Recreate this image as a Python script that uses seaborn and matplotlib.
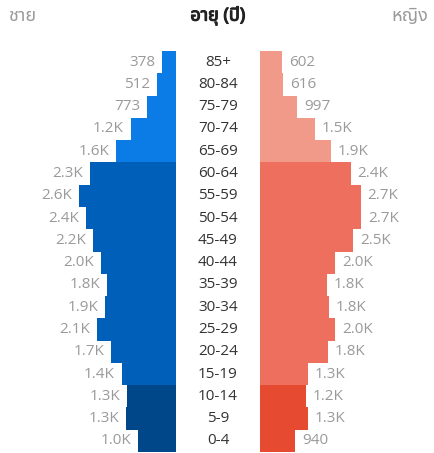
import matplotlib
matplotlib.use("Agg")
import matplotlib.pyplot as plt
import matplotlib.patheffects as pe
from matplotlib import font_manager
from matplotlib.ft2font import FT2Font
import seaborn as sns
import pandas as pd

# Age groups, oldest at the top
ages = ["85+", "80-84", "75-79", "70-74", "65-69", "60-64", "55-59", "50-54",
        "45-49", "40-44", "35-39", "30-34", "25-29", "20-24", "15-19",
        "10-14", "5-9", "0-4"]
male = [378, 512, 773, 1210, 1600, 2310, 2600, 2400, 2230, 2010, 1840, 1900,
        2120, 1740, 1450, 1310, 1330, 1020]
female = [602, 616, 997, 1480, 1900, 2430, 2700, 2710, 2490, 2010, 1790, 1840,
          2010, 1810, 1290, 1230, 1280, 940]

title_left = "ชาย"
title_mid = "อายุ (ปี)"
title_right = "หญิง"

# Colour bands: elderly (65+), working age (15-64), children (0-14)
male_colors = ["#0b7be6"] * 5 + ["#0060b9"] * 10 + ["#00478a"] * 3
female_colors = ["#f29a8a"] * 5 + ["#ee6f5d"] * 10 + ["#e64a31"] * 3


def thai_family():
    """Return an installed family that has Thai glyphs, if any."""
    found = []
    for f in font_manager.fontManager.ttflist:
        try:
            cmap = FT2Font(f.fname).get_charmap()
        except Exception:
            continue
        if all(ord(c) in cmap for c in "ชายหญิงปุ"):
            found.append(f.name)
    for pref in ["Noto Sans Thai", "Noto Sans Thai UI", "Tahoma", "Loma",
                 "Garuda", "Sarabun", "Leelawadee UI", "DejaVu Sans"]:
        if pref in found:
            return pref
    return found[0] if found else "DejaVu Sans"


sns.set_theme(style="white")
TH = thai_family()
plt.rcParams["font.family"] = ["Open Sans", TH, "DejaVu Sans"]

df = pd.DataFrame({"age": ages, "male": male, "female": female})

W, H = 434, 453
fig = plt.figure(figsize=(W / 100, H / 100), dpi=100)

px_per_unit = 0.0373
top_px, bot_px = 51, 452
left_edge, right_edge = 176, 260

ax_l = fig.add_axes([0, (H - bot_px) / H, left_edge / W, (bot_px - top_px) / H])
ax_r = fig.add_axes([right_edge / W, (H - bot_px) / H, (W - right_edge) / W,
                     (bot_px - top_px) / H])

sns.barplot(data=df, x="male", y="age", hue="age", palette=male_colors,
            legend=False, width=1.0, ax=ax_l, saturation=1, linewidth=0)
sns.barplot(data=df, x="female", y="age", hue="age", palette=female_colors,
            legend=False, width=1.0, ax=ax_r, saturation=1, linewidth=0)

ax_l.set_xlim(left_edge / px_per_unit, 0)
ax_r.set_xlim(0, (W - right_edge) / px_per_unit)


def fmt(v):
    return f"{v}" if v < 1000 else f"{v / 1000:.1f}K"


for ax, vals in ((ax_l, male), (ax_r, female)):
    ax.set_ylim(len(ages) - 0.5, -0.5)
    for cont, v in zip(ax.containers, vals):
        ax.bar_label(cont, labels=[fmt(v)], padding=5, color="#9a9a9a",
                     fontsize=11)
    ax.set_xlabel("")
    ax.set_ylabel("")
    ax.set_xticks([])
    ax.set_yticks([])
    for s in ax.spines.values():
        s.set_visible(False)
    ax.patch.set_alpha(0)

# Age labels down the middle
for i, a in enumerate(ages):
    ax_r.annotate(a, xy=(0, i), xycoords="data",
                  xytext=(-(right_edge - 218), 0), textcoords="offset pixels",
                  ha="center", va="center", fontsize=11, color="#333333")

fig.text(8 / W, 1 - 16 / H, title_left, ha="left", va="center",
         fontsize=13, color="#9a9a9a", family=[TH, "DejaVu Sans"])
fig.text(218 / W, 1 - 16 / H, title_mid, ha="center", va="center",
         fontsize=13, color="#222222", fontweight="bold",
         family=[TH, "DejaVu Sans"],
         path_effects=[pe.withStroke(linewidth=0.8, foreground="#222222")])
fig.text(428 / W, 1 - 16 / H, title_right, ha="right", va="center",
         fontsize=13, color="#9a9a9a", family=[TH, "DejaVu Sans"])

fig.savefig("out.png", dpi=100)
